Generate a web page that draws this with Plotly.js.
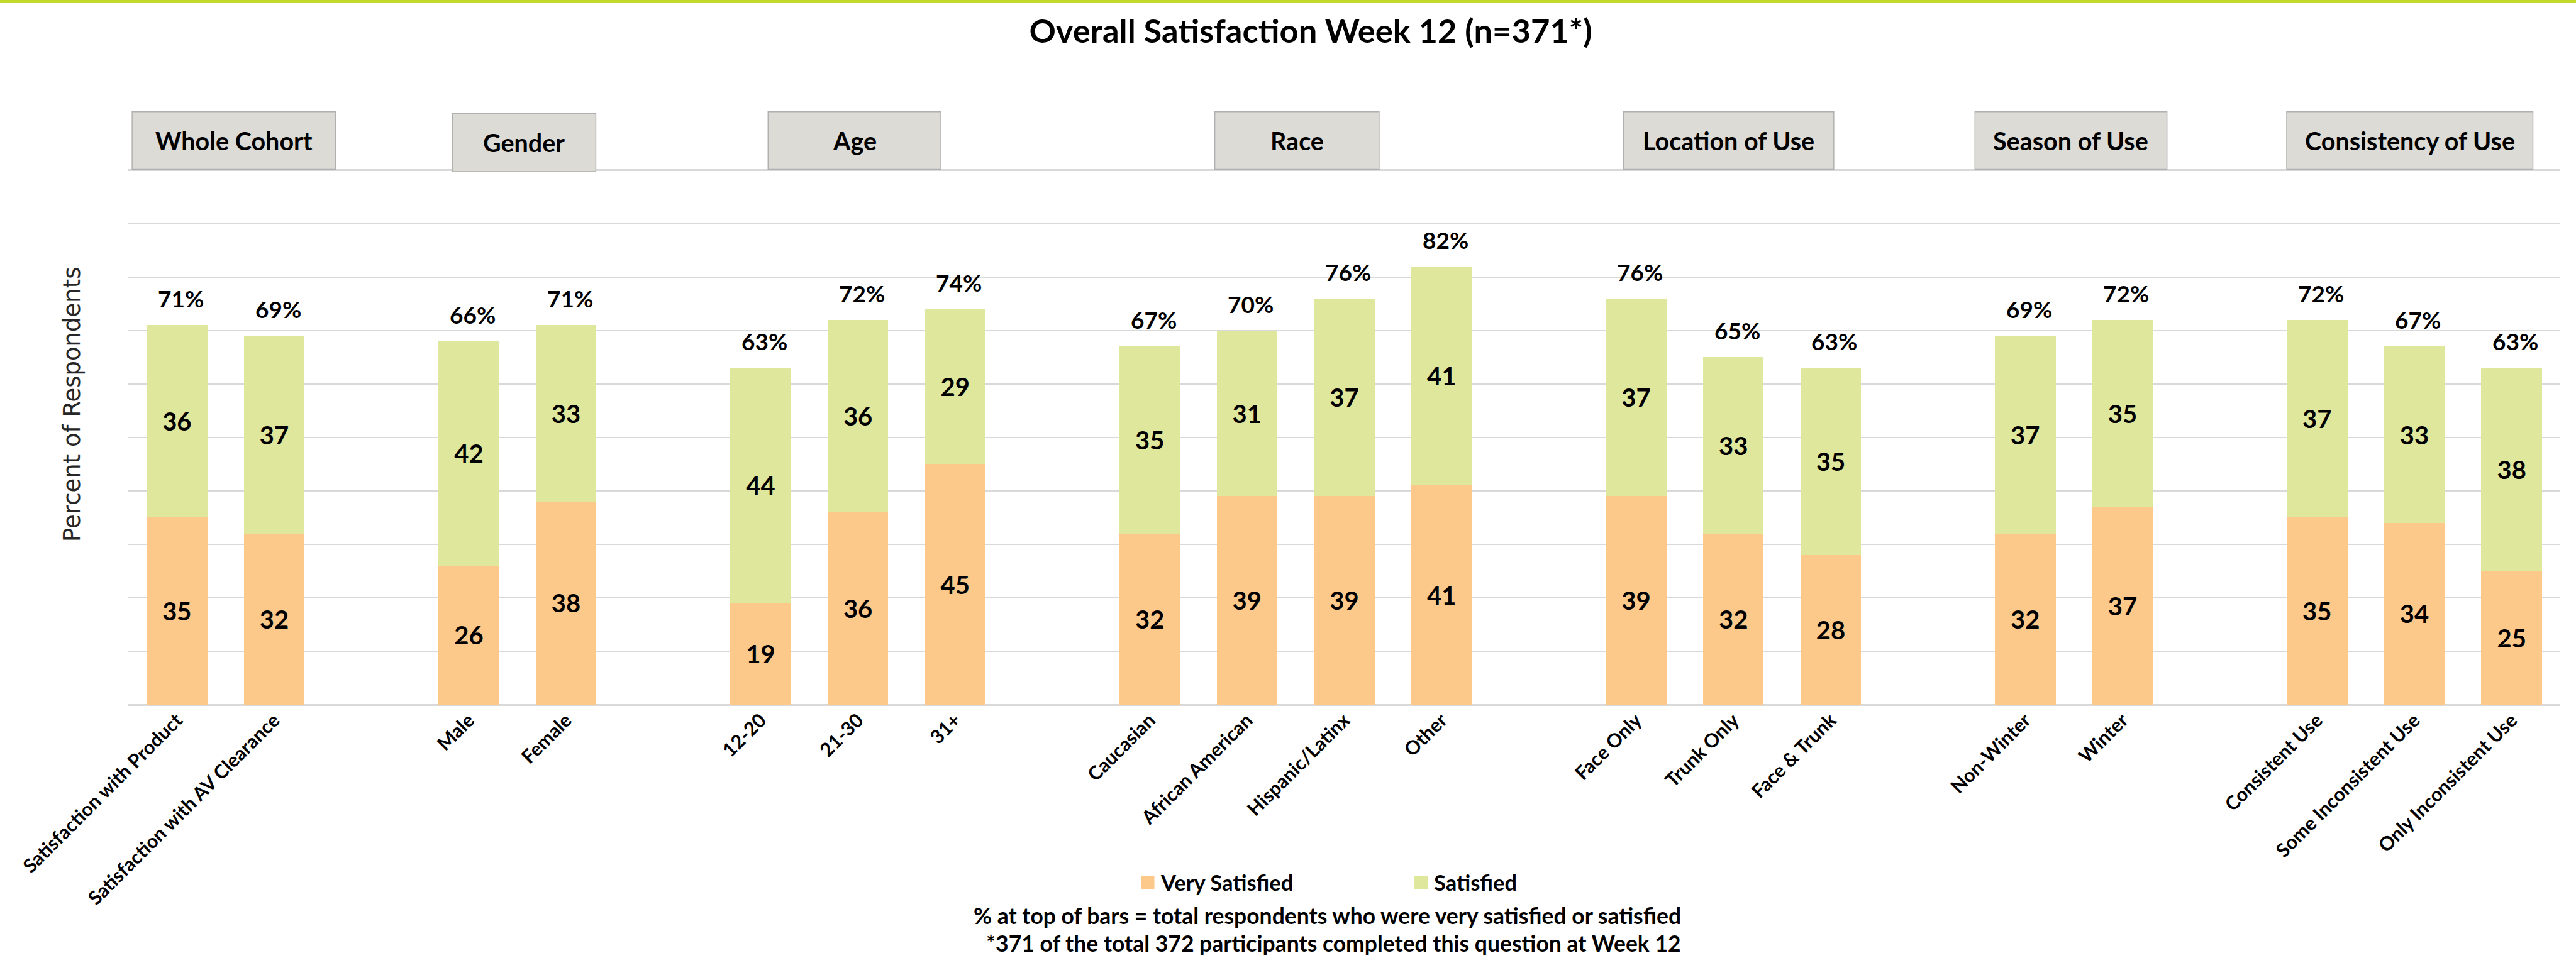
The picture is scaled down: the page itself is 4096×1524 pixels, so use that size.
<!DOCTYPE html>
<html>
<head>
<meta charset="utf-8">
<script src="https://cdn.plot.ly/plotly-3.0.1.min.js"></script>
<style>
  html, body { margin: 0; padding: 0; background: #ffffff; }
  #chart { width: 4096px; height: 1524px; }
</style>
</head>
<body>
<div id="chart"></div>
<script>
// ---------------- DATA ----------------
const groups = ['Whole Cohort', 'Gender', 'Age', 'Race', 'Location of Use', 'Season of Use', 'Consistency of Use'];
const groupSizes = [2, 2, 3, 4, 3, 2, 3];
const categories = ['Satisfaction with Product', 'Satisfaction with AV Clearance',
  'Male', 'Female',
  '12-20', '21-30', '31+',
  'Caucasian', 'African American', 'Hispanic/Latinx', 'Other',
  'Face Only', 'Trunk Only', 'Face & Trunk',
  'Non-Winter', 'Winter',
  'Consistent Use', 'Some Inconsistent Use', 'Only Inconsistent Use'];
const verySatisfied = [35, 32, 26, 38, 19, 36, 45, 32, 39, 39, 41, 39, 32, 28, 32, 37, 35, 34, 25];
const satisfied     = [36, 37, 42, 33, 44, 36, 29, 35, 31, 37, 41, 37, 33, 35, 37, 35, 37, 33, 38];
const totalLabels   = [71, 69, 66, 71, 63, 72, 74, 67, 70, 76, 82, 76, 65, 63, 69, 72, 72, 67, 63];
const seriesNames = ['Very Satisfied', 'Satisfied'];
const chartTitle = 'Overall Satisfaction Week 12 (n=371*)';
const yTitle = 'Percent of Respondents';
const footnotes = ['% at top of bars = total respondents who were very satisfied or satisfied',
                   '*371 of the total 372 participants completed this question at Week 12'];

// ---------------- STYLE / LAYOUT ----------------
const FONT = 'Lato, "Open Sans", sans-serif';
const C_VS = '#FCC98B';
const C_S = '#DEE79C';
const PAGE_W = 4096, PAGE_H = 1524;
const L = 204, R = 4071, T = 269, B = 1121;
const PW = R - L, PH = B - T;
const pxX = px => (px - L) / PW;
const pyY = py => (B - py) / PH;

// axis categories with empty spacer slots between groups
const axisCats = [];
const vsFull = [], sFull = [];
let k = 0;
groups.forEach((g, gi) => {
  if (gi > 0) { axisCats.push(' '.repeat(gi)); vsFull.push(null); sFull.push(null); }
  for (let j = 0; j < groupSizes[gi]; j++, k++) {
    axisCats.push(categories[k]);
    vsFull.push(verySatisfied[k]);
    sFull.push(satisfied[k]);
  }
});

const labelFont = {family: FONT, size: 40, color: '#000000', weight: 'bold'};

const traces = [
  {type: 'bar', name: seriesNames[0], x: axisCats, y: vsFull,
   marker: {color: C_VS}, texttemplate: '%{y}', textposition: 'inside',
   insidetextanchor: 'middle', textangle: 0, constraintext: 'none',
   textfont: labelFont, hoverinfo: 'skip', showlegend: false},
  {type: 'bar', name: seriesNames[1], x: axisCats, y: sFull,
   marker: {color: C_S}, texttemplate: '%{y}', textposition: 'inside',
   insidetextanchor: 'middle', textangle: 0, constraintext: 'none',
   textfont: labelFont, hoverinfo: 'skip', showlegend: false}
];

const annotations = [];
// totals above bars
categories.forEach((c, i) => {
  annotations.push({x: c, y: verySatisfied[i] + satisfied[i], xref: 'x', yref: 'y',
    text: totalLabels[i] + '%', showarrow: false, yanchor: 'bottom', xshift: 6, yshift: 18,
    font: {family: FONT, size: 37, color: '#000000', weight: 'bold'}});
});

// header boxes (reference pixel edges scaled)
const S = 0.898;
const headerBoxes = [[234, 594, 198, 300], [801, 1055, 201, 304], [1360, 1666, 198, 300],
  [2151, 2442, 198, 300], [2875, 3247, 198, 300], [3497, 3837, 198, 300], [4049, 4485, 198, 300]];
const shapes = [];
// top accent bar
shapes.push({type: 'rect', xref: 'paper', yref: 'paper', x0: pxX(0), x1: pxX(PAGE_W),
  y0: pyY(0), y1: pyY(4.3), fillcolor: '#C3D92C', line: {width: 0}, layer: 'above'});
groups.forEach((g, gi) => {
  const b = headerBoxes[gi];
  const x0 = b[0] * S, x1 = b[1] * S, y0 = b[2] * S, y1 = b[3] * S;
  shapes.push({type: 'rect', xref: 'paper', yref: 'paper', x0: pxX(x0), x1: pxX(x1),
    y0: pyY(y1), y1: pyY(y0), fillcolor: '#DCDBD6', line: {color: '#B0B0B0', width: 1.5}, layer: 'above'});
  annotations.push({xref: 'paper', yref: 'paper', x: pxX((x0 + x1) / 2), y: pyY((y0 + y1) / 2),
    text: g, showarrow: false, xanchor: 'center', yanchor: 'middle',
    font: {family: FONT, size: 39.5, color: '#000000', weight: 'bold'}});
});

// y axis title
annotations.push({xref: 'paper', yref: 'paper', x: pxX(114), y: pyY(643), text: yTitle,
  textangle: -90, showarrow: false, xanchor: 'center', yanchor: 'middle',
  font: {family: '"DejaVu Sans", sans-serif', size: 37, color: '#262626'}});

// legend (manual)
const legendItems = [[1814, C_VS, seriesNames[0]], [2249, C_S, seriesNames[1]]];
legendItems.forEach(it => {
  shapes.push({type: 'rect', xref: 'paper', yref: 'paper', x0: pxX(it[0]), x1: pxX(it[0] + 21.5),
    y0: pyY(1414.5), y1: pyY(1393), fillcolor: it[1], line: {width: 0}});
  annotations.push({xref: 'paper', yref: 'paper', x: pxX(it[0] + 29), y: pyY(1403),
    text: it[2], showarrow: false, xanchor: 'left', yanchor: 'middle',
    font: {family: FONT, size: 34.5, color: '#000000', weight: 'bold'}});
});

// footnotes
annotations.push({xref: 'paper', yref: 'paper', x: pxX(2110), y: pyY(1456), text: footnotes[0],
  showarrow: false, xanchor: 'center', yanchor: 'middle',
  font: {family: FONT, size: 35.5, color: '#000000', weight: 'bold'}});
annotations.push({xref: 'paper', yref: 'paper', x: pxX(2120), y: pyY(1500), text: footnotes[1],
  showarrow: false, xanchor: 'center', yanchor: 'middle',
  font: {family: FONT, size: 35.5, color: '#000000', weight: 'bold'}});

const layout = {
  width: PAGE_W, height: PAGE_H,
  margin: {l: L, r: PAGE_W - R, t: T, b: PAGE_H - B, pad: 0, autoexpand: false},
  paper_bgcolor: '#ffffff', plot_bgcolor: '#ffffff',
  title: {text: chartTitle, xref: 'paper', x: pxX(2084), xanchor: 'center',
    yref: 'container', y: 1 - 50 / PAGE_H, yanchor: 'middle',
    font: {family: FONT, size: 52.5, color: '#000000', weight: 'bold'}},
  barmode: 'stack', bargap: 0.376,
  showlegend: false,
  xaxis: {type: 'category', categoryorder: 'array', categoryarray: axisCats,
    range: [-0.5, axisCats.length - 0.5], tickangle: -45, showgrid: false, ticks: '',
    showline: false, zeroline: false, automargin: false,
    tickfont: {family: FONT, size: 30.5, color: '#000000', weight: 'bold'}},
  yaxis: {range: [0, 100.2], dtick: 10, tick0: 0, showticklabels: false, ticks: '',
    showgrid: true, gridcolor: '#D9D9D9', gridwidth: 2.5,
    zeroline: true, zerolinecolor: '#D9D9D9', zerolinewidth: 3, automargin: false, fixedrange: true},
  shapes: shapes,
  annotations: annotations,
  font: {family: FONT}
};

Plotly.newPlot('chart', traces, layout, {staticPlot: true, displayModeBar: false});
</script>
</body>
</html>
